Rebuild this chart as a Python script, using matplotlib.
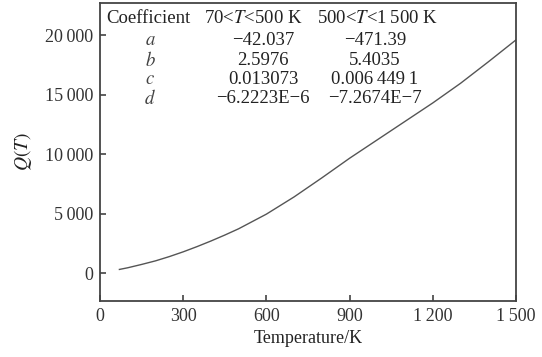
import numpy as np
import matplotlib
matplotlib.use("Agg")
import matplotlib.pyplot as plt

# curve
temp = [70, 100, 150, 200, 250, 300, 350, 400, 450, 500,
        600, 700, 800, 900, 1000, 1100, 1200, 1300, 1400, 1500]
q = [300, 440, 720, 1020, 1380, 1780, 2220, 2690, 3190, 3720,
     4950, 6400, 8000, 9650, 11200, 12750, 14300, 15950, 17750, 19600]

xticks = [0, 300, 600, 900, 1200, 1500]
xlabels = ["0", "300", "600", "900", "1\u2009200", "1\u2009500"]
yticks = [0, 5000, 10000, 15000, 20000]
ylabels = ["0", "5\u2009000", "10\u2009000", "15\u2009000", "20\u2009000"]

# coefficient table
coef_names = ["a", "b", "c", "d"]
col_low = ["\u221242.037", "2.5976", "0.013073", "\u22126.2223E\u22126"]
col_high = ["\u2212471.39", "5.4035", "0.006\u2009449\u20091", "\u22127.2674E\u22127"]

plt.rcParams['font.family'] = ['Liberation Serif', 'DejaVu Serif']
plt.rcParams['mathtext.fontset'] = 'stix'

fig = plt.figure(figsize=(5.42, 3.57), dpi=100)
ax = fig.add_axes([0.1845, 0.157, 0.7675, 0.8345])

ax.plot(temp, q, color="#555555", lw=1.0)

ax.set_xlim(0, 1500)
ax.set_ylim(-2350, 22700)
ax.set_xticks(xticks)
ax.set_xticklabels(xlabels)
ax.set_yticks(yticks)
ax.set_yticklabels(ylabels)
ax.tick_params(direction="in", length=4, width=1.1, colors="#333333",
               labelsize=13, pad=5)
for s in ax.spines.values():
    s.set_color("#444444")
    s.set_linewidth(1.3)

ax.set_xlabel("Temperature/K", fontsize=13, color="#222222", labelpad=4)
ax.set_ylabel("$Q(T)$", fontsize=14, color="#222222", labelpad=8)

# table inside the plot, in pixel-ish axes coordinates
tr = ax.transAxes
fs = 13.5
def ypos(py):
    return (301 - py) / 298.0
def xpos(px):
    return (px - 100) / 416.0

ax.text(xpos(148), ypos(18), "Coefficient", transform=tr, ha="center", va="center", fontsize=fs, color="#222222")
ax.text(xpos(253), ypos(18), "70<$T$<500 K", transform=tr, ha="center", va="center", fontsize=fs, color="#222222")
ax.text(xpos(378), ypos(18), "500<$T$<1\u2009500 K", transform=tr, ha="center", va="center", fontsize=fs, color="#222222")
rows_y = [40, 60, 79, 98]
for name, lo, hi, py in zip(coef_names, col_low, col_high, rows_y):
    ax.text(xpos(150), ypos(py), "$" + name + "$", transform=tr, ha="center", va="center", fontsize=fs, color="#444444")
    ax.text(xpos(263), ypos(py), lo, transform=tr, ha="center", va="center", fontsize=fs, color="#222222")
    ax.text(xpos(375), ypos(py), hi, transform=tr, ha="center", va="center", fontsize=fs, color="#222222")

fig.savefig("out.png", dpi=100)
